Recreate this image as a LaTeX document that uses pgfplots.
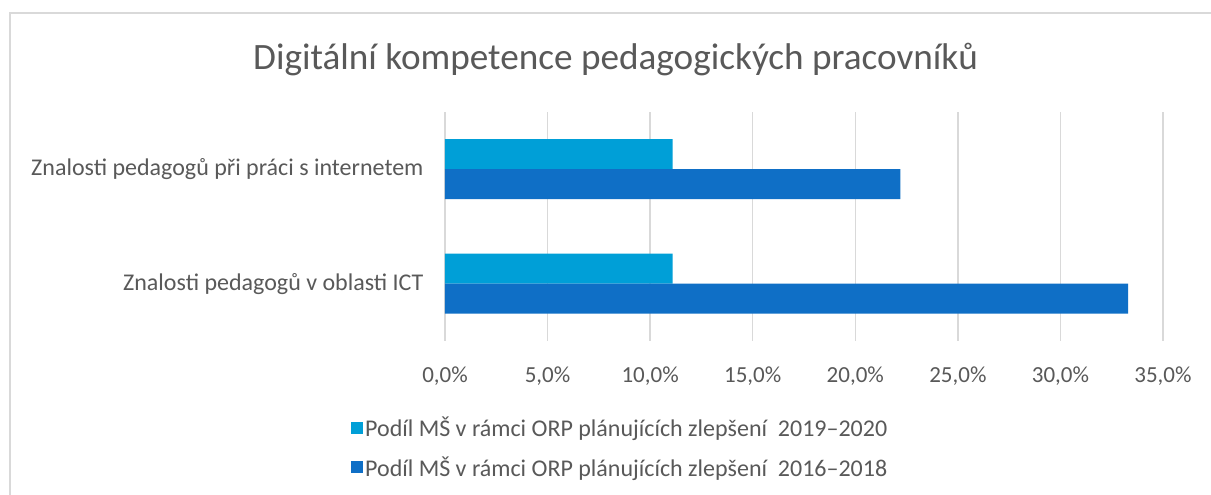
\documentclass[border=0pt]{standalone}
\usepackage{pgfplots}
\pgfplotsset{compat=1.18}
\usepackage{fontspec}
\setmainfont{Carlito}
\definecolor{lightb}{RGB}{0,159,215}
\definecolor{darkb}{RGB}{15,111,198}
\definecolor{gridc}{RGB}{217,217,217}
\definecolor{txt}{RGB}{89,89,89}
\begin{document}
\begin{tikzpicture}[x=1pt,y=1pt]
\useasboundingbox (0,0) rectangle (1211,495);
\fill[white] (0,0) rectangle (1211,495);
\draw[gridc, line width=1.5pt] (10,0) -- (10,482) -- (1211,482);
\node[anchor=base, text=txt, font=\fontsize{37.2}{42}\selectfont] at (615.5,425) {Digitální kompetence pedagogických pracovníků};
\begin{axis}[
  at={(445pt,154pt)}, anchor=south west,
  scale only axis, width=718pt, height=229pt,
  xmin=0, xmax=35, ymin=-0.5, ymax=1.5,
  axis line style={draw=none},
  xtick={0,5,...,35}, ytick={0,1},
  yticklabels={Znalosti pedagogů v oblasti ICT, Znalosti pedagogů při práci s internetem},
  xmajorgrids, grid style={gridc, line width=1.5pt},
  major tick length=0pt,
  /pgf/number format/assume math mode=true,
  xticklabel={\pgfmathprintnumber[fixed,fixed zerofill,precision=1,use comma]{\tick}\%},
  xticklabel style={text=txt, font=\fontsize{23}{26}\selectfont, yshift=-22pt},
  yticklabel style={text=txt, font=\fontsize{24}{27}\selectfont, xshift=-18pt},
  xbar, bar width=30pt,
  legend style={at={(-0.1351,-0.465)}, anchor=west, draw=none, fill=none,
    font=\fontsize{24}{27}\selectfont, text=txt, row sep=14pt,
    legend cell align=left},
  legend image code/.code={\fill[#1] (0pt,-6pt) rectangle (12pt,6pt);},
]
\addplot[fill=lightb, draw=none, bar shift=15pt] coordinates {(11.1,0) (11.1,1)};
\addlegendentry{Podíl MŠ v rámci ORP plánujících zlepšení\ \ 2019–2020}
\addplot[fill=darkb, draw=none, bar shift=-15pt] coordinates {(33.3,0) (22.2,1)};
\addlegendentry{Podíl MŠ v rámci ORP plánujících zlepšení\ \ 2016–2018}
\end{axis}
\end{tikzpicture}
\end{document}
